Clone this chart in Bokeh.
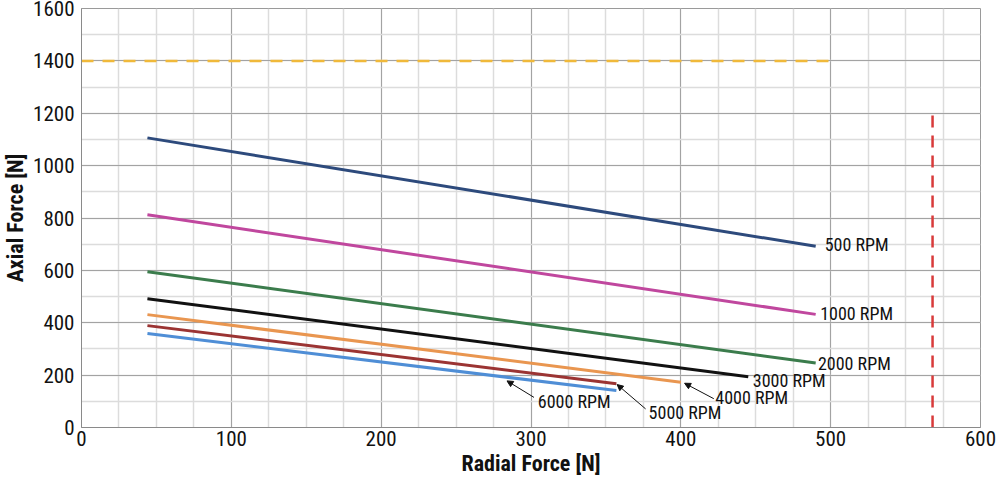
from bokeh.plotting import figure
from bokeh.models import (SingleIntervalTicker, Range1d, Arrow, NormalHead,
                          ColumnDataSource)
from bokeh.core.properties import value
from bokeh.embed import file_html
from bokeh.resources import INLINE

FONT = "Roboto Condensed"

# ---- data ----
series_names = ["500 RPM", "1000 RPM", "2000 RPM", "3000 RPM", "4000 RPM", "5000 RPM", "6000 RPM"]
radial_start = [44, 44, 44, 44, 44, 44, 44]
radial_end = [490, 490, 490, 445, 400, 357, 357]
axial_start = [1106, 812, 595, 492, 431, 389, 359]
axial_end = [692, 432, 246, 194, 173, 167, 141]
colors = ["#2d4a7c", "#c0479e", "#3b7c4c", "#111111", "#e99650", "#9b3433", "#4f8ed6"]

label_x = [496, 493, 491.5, 448, 423, 378.5, 304.5]
label_y = [697, 434, 243, 179, 113, 58, 99]

# leader arrows (6000, 5000, 4000): tail near label, tip at line end
arrow_tail_x = [302, 376.5, 422]
arrow_tail_y = [115, 71, 110]
arrow_tip_x = [284, 357.5, 402.5]
arrow_tip_y = [178, 164, 169]

limit_axial = 1400
limit_axial_xmax = 500
limit_radial = 568
limit_radial_ymax = 1200

p = figure(width=997, height=480, output_backend="svg", toolbar_location=None,
           x_range=Range1d(0, 600), y_range=Range1d(0, 1600),
           min_border_left=80, min_border_right=17, min_border_top=8,
           min_border_bottom=53)

p.background_fill_color = "white"
p.border_fill_color = "white"
p.outline_line_color = "#9a9a9a"
p.outline_line_width = 1

p.xaxis.ticker = SingleIntervalTicker(interval=100, num_minor_ticks=4)
p.yaxis.ticker = SingleIntervalTicker(interval=200, num_minor_ticks=2)

for ax in (p.xaxis[0], p.yaxis[0]):
    ax.major_tick_line_color = None
    ax.minor_tick_line_color = None
    ax.major_tick_out = 0
    ax.minor_tick_out = 0
    ax.major_tick_in = 0
    ax.minor_tick_in = 0
    ax.axis_line_color = "#8a8a8a"
    ax.major_label_text_font = FONT
    ax.major_label_text_font_size = "21px"
    ax.major_label_text_color = "#111111"
    ax.axis_label_text_font = FONT
    ax.axis_label_text_font_style = "bold"
    ax.axis_label_text_font_size = "22px"
    ax.axis_label_text_color = "#111111"

p.xaxis.axis_label = "Radial Force [N]"
p.yaxis.axis_label = "Axial Force [N]"
p.xaxis.major_label_standoff = 3
p.xaxis.axis_label_standoff = 2
p.yaxis.major_label_standoff = 7
p.yaxis.axis_label_standoff = 2

p.xgrid.grid_line_color = "#a3a3a3"
p.ygrid.grid_line_color = "#a3a3a3"
p.xgrid.minor_grid_line_color = "#dcdcdc"
p.ygrid.minor_grid_line_color = "#dcdcdc"
p.xgrid.minor_grid_line_width = 1.5
p.ygrid.minor_grid_line_width = 1.5

# limit lines
p.line([0, limit_axial_xmax], [limit_axial, limit_axial], line_color="#f0b93a",
       line_width=2.5, line_dash="12 9")
p.line([limit_radial, limit_radial], [0, limit_radial_ymax], line_color="#d83a3a",
       line_width=2.5, line_dash="12 8")

for i in range(len(series_names)):
    p.line([radial_start[i], radial_end[i]], [axial_start[i], axial_end[i]],
           line_color=colors[i], line_width=3)

src = ColumnDataSource(dict(x=label_x, y=label_y, t=series_names))
p.text(x="x", y="y", text="t", source=src, text_font=value(FONT),
       text_font_size="18px", text_align="left", text_baseline="middle",
       text_color="#111111")

for i in range(len(arrow_tip_x)):
    p.add_layout(Arrow(end=NormalHead(size=6, fill_color="#111111", line_color="#111111"),
                       x_start=arrow_tail_x[i], y_start=arrow_tail_y[i],
                       x_end=arrow_tip_x[i], y_end=arrow_tip_y[i],
                       line_color="#111111", line_width=1))

open("out.html", "w").write(file_html(p, INLINE))
